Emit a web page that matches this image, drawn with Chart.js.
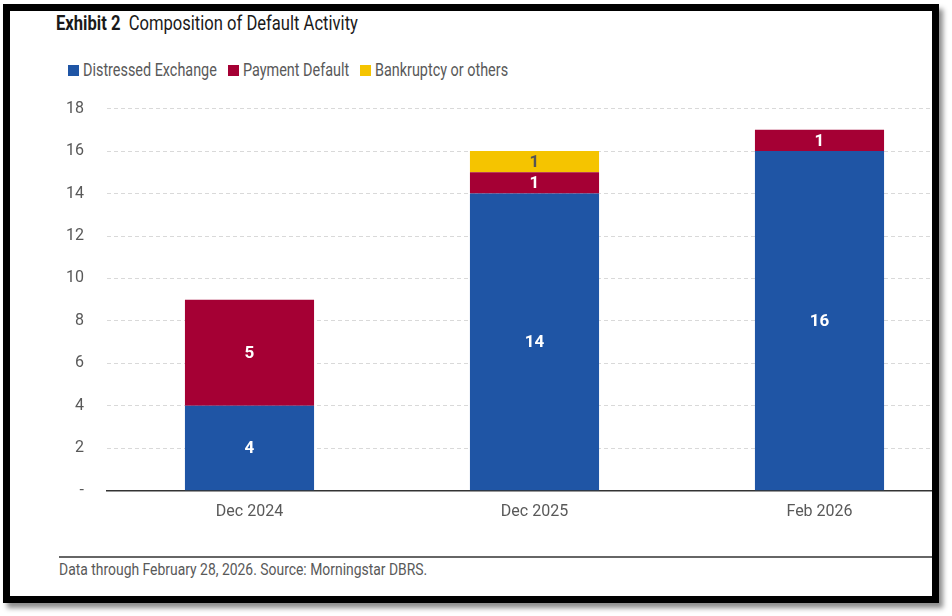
<!DOCTYPE html>
<html>
<head>
<meta charset="utf-8">
<title>Composition of Default Activity</title>
<script src="https://cdn.jsdelivr.net/npm/chart.js@4.4.1/dist/chart.umd.min.js"></script>
<style>
  body {
    margin: 0;
    width: 952px;
    height: 616px;
    overflow: hidden;
    background: #fff;
    font-family: Roboto, "Liberation Sans", sans-serif;
  }
  #frame {
    position: absolute;
    left: 3px;
    top: 4px;
    width: 936px;
    height: 599px;
    box-sizing: border-box;
    border: 7px solid #000;
    background: #fff;
    overflow: hidden;
    box-shadow: 4px 5px 5px rgba(0, 0, 0, 0.45);
  }
  /* no condensed face is installed, so squeeze the text a little */
  .narrow {
    position: absolute;
    white-space: nowrap;
    transform: scaleX(0.8);
    transform-origin: left top;
  }
  #title {
    left: 46px;
    top: 0px;
    font-size: 21px;
    line-height: 24px;
    color: #1a1a1a;
    transform: scaleX(0.79);
  }
  #legend .box {
    position: absolute;
    top: 54px;
    width: 11px;
    height: 11px;
  }
  #legend .text {
    top: 49px;
    font-size: 18px;
    line-height: 20px;
    color: #595959;
  }
  #chartWrap {
    position: absolute;
    left: 50px;
    top: 65px;
    width: 902px;
    height: 458px;
  }
  #rule {
    position: absolute;
    left: 49px;
    top: 545px;
    width: 900px;
    height: 2px;
    background: #666;
  }
  #source {
    left: 49px;
    top: 548px;
    font-size: 17px;
    line-height: 20px;
    color: #595959;
    transform: scaleX(0.818);
  }
</style>
</head>
<body>
<div id="frame">
  <div id="title" class="narrow"><b>Exhibit 2</b>&nbsp; Composition of Default Activity</div>
  <div id="legend"></div>
  <div id="chartWrap"><canvas id="defaultChart"></canvas></div>
  <div id="rule"></div>
  <div id="source" class="narrow">Data through February 28, 2026. Source: Morningstar DBRS.</div>
</div>

<script>
const FONT = 'Roboto, "Liberation Sans", sans-serif';

// chart data
const categories = ['Dec 2024', 'Dec 2025', 'Feb 2026'];
const distressedExchange = [4, 14, 16];
const paymentDefault = [5, 1, 1];
const bankruptcyOther = [0, 1, 0];

const seriesNames = ['Distressed Exchange', 'Payment Default', 'Bankruptcy or others'];
const seriesColors = ['#1f55a5', '#a50034', '#f5c400'];
const labelColors = ['#ffffff', '#ffffff', '#555555'];

const yMax = 18;
const yStep = 2;

// left edge of each legend entry inside the frame
const legendLeft = [58, 218, 350];

/**
 * Writes the value in the middle of each stacked segment
 */
const segmentLabels = {
  id: 'segmentLabels',
  afterDatasetsDraw(chart) {
    const ctx = chart.ctx;
    chart.data.datasets.forEach((ds, i) => {
      const meta = chart.getDatasetMeta(i);
      meta.data.forEach((bar, j) => {
        const v = ds.data[j];
        if (!v) return;
        ctx.save();
        ctx.fillStyle = labelColors[i];
        ctx.font = 'bold 17px ' + FONT;
        ctx.textAlign = 'center';
        ctx.textBaseline = 'middle';
        ctx.fillText(String(v), bar.x, (bar.y + bar.base) / 2 + 1);
        ctx.restore();
      });
    });
  }
};

/**
 * Builds the html legend from the chart datasets
 */
function buildLegend(chart) {
  const box = document.getElementById('legend');
  box.innerHTML = chart.data.datasets.map((ds, i) =>
    '<span class="box" style="left:' + legendLeft[i] + 'px;background:' + ds.backgroundColor + '"></span>' +
    '<span class="text narrow" style="left:' + (legendLeft[i] + 15) + 'px">' + ds.label + '</span>'
  ).join('');
}

function createDefaultChart() {
  const ctx = document.getElementById('defaultChart').getContext('2d');
  const values = [distressedExchange, paymentDefault, bankruptcyOther];

  const chart = new Chart(ctx, {
    type: 'bar',
    data: {
      labels: categories,
      datasets: values.map((data, i) => ({
        label: seriesNames[i],
        data: data,
        backgroundColor: seriesColors[i],
        borderWidth: 0,
        categoryPercentage: 1,
        barPercentage: 0.453
      }))
    },
    options: {
      responsive: true,
      maintainAspectRatio: false,
      animation: false,
      layout: { padding: 0 },
      plugins: {
        legend: { display: false },
        tooltip: { enabled: false }
      },
      scales: {
        x: {
          stacked: true,
          grid: { display: false, drawTicks: false },
          border: { display: true, color: '#333', width: 1.5 },
          ticks: {
            padding: 12,
            color: '#595959',
            font: { family: FONT, size: 16 }
          }
        },
        y: {
          stacked: true,
          min: 0,
          max: yMax,
          afterFit(scale) { scale.width = 47; },
          grid: {
            color: '#d9d9d9',
            lineWidth: 1,
            drawTicks: false
          },
          border: { display: false, dash: [4, 3] },
          ticks: {
            stepSize: yStep,
            padding: 23,
            color: '#595959',
            font: { family: FONT, size: 16 },
            callback: v => (v === 0 ? '-' : v)
          }
        }
      }
    },
    plugins: [segmentLabels]
  });

  buildLegend(chart);
  return chart;
}

document.addEventListener('DOMContentLoaded', createDefaultChart);
</script>
</body>
</html>
